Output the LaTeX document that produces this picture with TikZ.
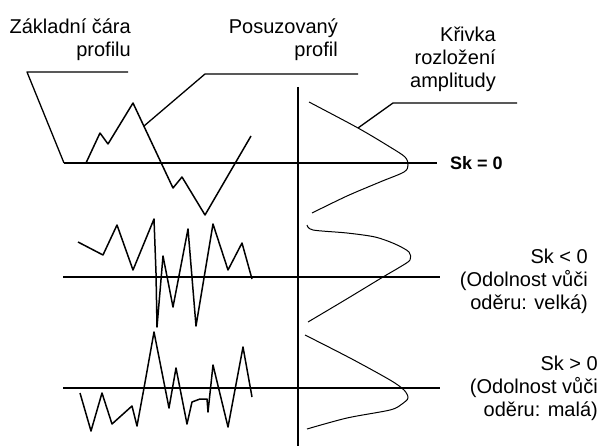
\documentclass[tikz,border=0pt]{standalone}
\usepackage{fontspec}
\setmainfont{Liberation Sans}
\begin{document}
\begin{tikzpicture}[x=1pt, y=-1pt, line join=round,
    axis/.style={line width=1.6pt},
    profile/.style={line width=1.5pt},
    leader/.style={line width=1.3pt},
    density/.style={line width=1pt},
    label/.style={align=right, inner sep=0pt, font=\fontsize{20}{23}\selectfont}]
        \useasboundingbox (0,0) rectangle (601,446);

        % Labels (anchored at the baseline of their last line)
        \node[label, anchor=base east] (baselabel) at (131,57) {Základní čára\\profilu};
        \node[label, anchor=base east] (proflabel) at (338,57) {Posuzovaný\\profil};
        \node[label, anchor=base east] (distlabel) at (496,88) {Křivka\\rozložení\\amplitudy};
        \node[inner sep=0pt, anchor=base west, font=\fontsize{18}{20}\selectfont\bfseries] (skzero) at (450,170) {Sk = 0};
        \node[label, anchor=base east] (skneg) at (588,309) {Sk < 0\\(Odolnost vůči\\oděru: velká)};
        \node[label, anchor=base east] (skpos) at (598,416) {Sk > 0\\(Odolnost vůči\\oděru: malá)};

        % Base lines and axis
        \coordinate (b1L) at (64,163);   \coordinate (b1R) at (437,163);
        \coordinate (b2L) at (63,277);   \coordinate (b2R) at (440,277);
        \coordinate (b3L) at (63,388);   \coordinate (b3R) at (440,388);
        \coordinate (axT) at (298,87);   \coordinate (axB) at (298,446);
        \draw[axis] (b1L) -- (b1R);
        \draw[axis] (b2L) -- (b2R);
        \draw[axis] (b3L) -- (b3R);
        \draw[axis] (axT) -- (axB);

        % Profiles
        \draw[profile] (86,163) -- (100,133) -- (108,144) -- (133,103) -- (173,188)
            -- (182,177) -- (205,215) -- (251,136);
        \draw[profile] (78,242) -- (103,255) -- (117,225) -- (133,270) -- (154,219)
            -- (156,273) -- (157,327) -- (163,256) -- (173,307) -- (188,229) -- (196,326)
            -- (213,224) -- (228,270) -- (242,243) -- (252,279);
        \draw[profile] (80,393) -- (91,431) -- (102,393) -- (112,424) -- (132,406)
            -- (137,426) -- (144,388) -- (154,332) -- (169,408) -- (176,368) -- (187,424)
            -- (192,402) -- (200,399) -- (207,399) -- (208,412) -- (213,365) -- (228,427)
            -- (243,347) -- (252,397);

        % Amplitude distribution curves
        \draw[density] plot[smooth, tension=0.5] coordinates {(309,102) (358,128) (390,147)
            (405,157) (408,165) (404,172) (380,182) (347,196) (312,213)};
        \draw[density] plot[smooth, tension=0.5] coordinates {(307,225) (313,230) (347,233)
            (375,237) (395,244) (409,252) (410,260) (400,267) (383,277) (345,300) (308,322)};
        \draw[density] plot[smooth, tension=0.5] coordinates {(305,335) (350,358) (390,380)
            (404,390) (408,398) (402,404) (390,410) (347,418) (307,429)};

        % Leader lines
        \coordinate (bl1) at (128,72);  \coordinate (bl2) at (27,72);
        \coordinate (pl0) at (144,126); \coordinate (pl1) at (205,74); \coordinate (pl2) at (358,74);
        \coordinate (dl0) at (358,128); \coordinate (dl1) at (393,103); \coordinate (dl2) at (517,103);
        \draw[leader] (bl1) -- (bl2) -- (b1L);
        \draw[leader] (pl0) -- (pl1) -- (pl2);
        \draw[leader] (dl0) -- (dl1) -- (dl2);
    \end{tikzpicture}
\end{document}
